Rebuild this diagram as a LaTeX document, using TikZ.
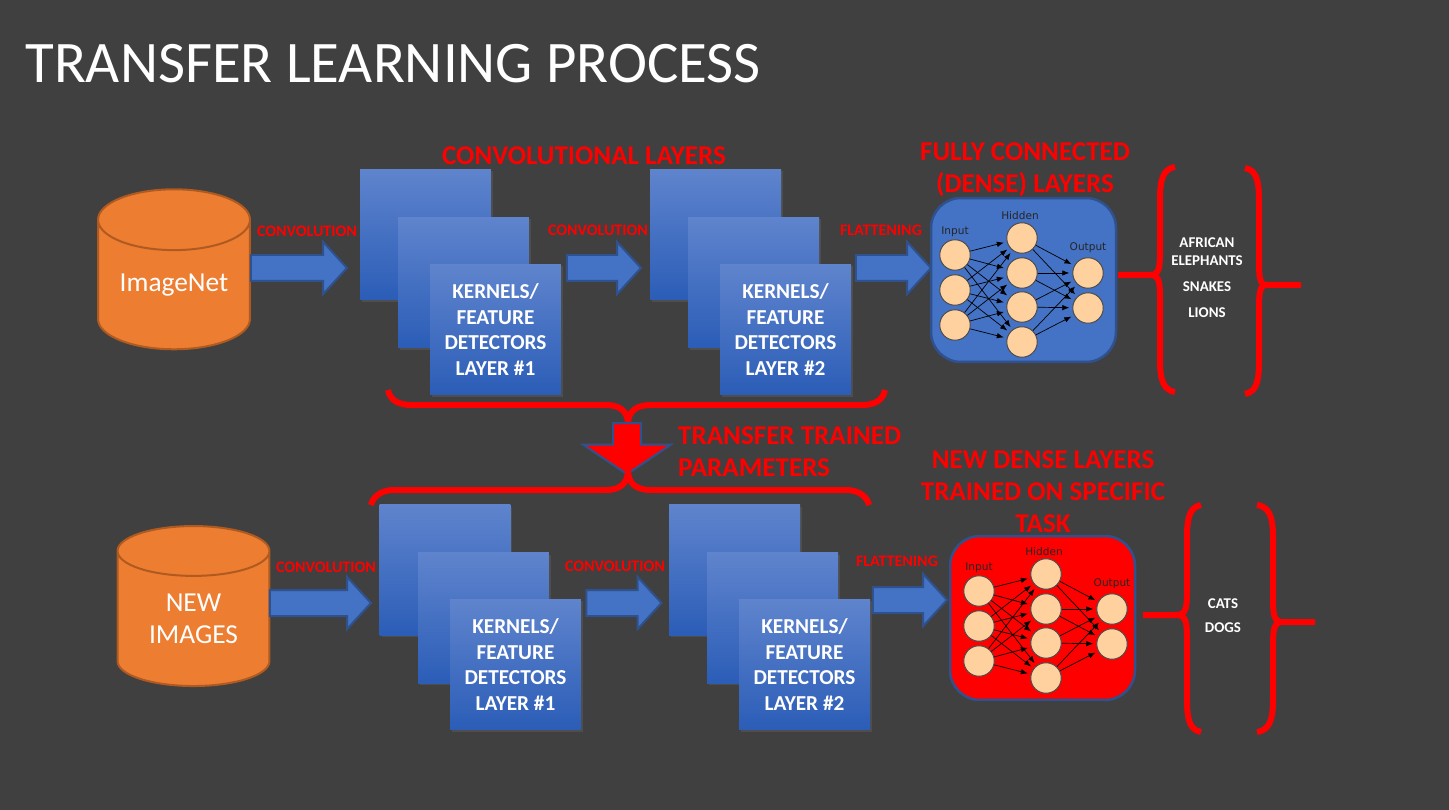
\documentclass[tikz,border=0pt]{standalone}
\usepackage{fontspec}
\setmainfont{Carlito}
\newfontfamily\netfont{DejaVu Sans}
\usetikzlibrary{shapes.geometric,shapes.arrows,shadows,arrows.meta}

\definecolor{slide}{HTML}{404040}
\definecolor{barrel}{HTML}{ED7D31}
\definecolor{barrelline}{HTML}{AE5A21}
\definecolor{ppblue}{HTML}{4472C4}
\definecolor{ppline}{HTML}{2F528F}
\definecolor{boxtop}{HTML}{5F84CD}
\definecolor{boxbottom}{HTML}{2B5DB7}
\definecolor{neuron}{HTML}{FFD19E}

\tikzset{
  barrelnode/.style={draw=barrelline,line width=.04cm,fill=barrel,shape=cylinder,shape border rotate=90,aspect=.56,
    minimum height=3.2cm,minimum width=3.04cm,inner sep=0pt,outer sep=0pt,text=white,align=center,
    font=\fontsize{15.6}{18.5}\selectfont},
  layerbox/.style={minimum size=2.62cm,inner sep=0pt,top color=boxtop,bottom color=boxbottom,
    drop shadow={shadow xshift=.04cm,shadow yshift=-.04cm,opacity=.22},text=white,align=center,
    font=\bfseries\fontsize{12.1}{14.5}\selectfont},
  blockarrow/.style={single arrow,draw=ppline,line width=.04cm,fill=ppblue,text height=.48cm,text depth=0pt,single arrow head extend=.26cm,
    single arrow tip angle=95,inner sep=0pt,outer sep=0pt},
  redhead/.style={red,font=\bfseries\fontsize{15.4}{18.2}\selectfont,align=center},
  redsmall/.style={red,font=\bfseries\fontsize{9.1}{10}\selectfont},
  listtext/.style={white,font=\bfseries\fontsize{8.5}{10}\selectfont},
  densebox/.style={draw=ppline,line width=.05cm,rounded corners=.6cm,minimum width=3.7cm,minimum height=3.28cm},
  cell/.style={circle,draw=black!70,fill=neuron,minimum size=.61cm,inner sep=0pt,line width=.02cm},
  netlabel/.style={font=\netfont\fontsize{6}{7}\selectfont,text=black!85},
  netedge/.style={-{Latex[length=.14cm,width=.11cm]},black,line width=.014cm,shorten >=.06cm},
  bigbrace/.style={red,line width=.12cm},
}

% #1 tip x, #2 spine x, #3 cusp x, #4 tail x, #5 top, #6 middle, #7 bottom
\newcommand{\curlybrace}[7]{
  \draw[bigbrace] (#1,#5) .. controls (#2,#5+2) and (#2,#5+20) .. (#2,#5+35) -- (#2,#6-28)
    .. controls (#2,#6-8) and (#2,#6) .. (#3,#6) -- (#4,#6);
  \draw[bigbrace] (#1,#7) .. controls (#2,#7-2) and (#2,#7-20) .. (#2,#7-35) -- (#2,#6+28)
    .. controls (#2,#6+8) and (#2,#6) .. (#3,#6);
}

% the small network, drawn around its own coordinates
\newcommand{\smallnet}{
  \foreach \n/\y in {1/255,2/290,3/325} \node[cell] (in\n) at (955,\y) {};
  \foreach \n/\y in {1/238,2/273,3/307,4/342} \node[cell] (hid\n) at (1022,\y) {};
  \foreach \n/\y in {1/273,2/308} \node[cell] (out\n) at (1088,\y) {};
  \node[netlabel] (inputlab) at (955,232) {Input};
  \node[netlabel] (hiddenlab) at (1020,215.5) {Hidden};
  \node[netlabel] (outputlab) at (1088,248) {Output};
  \foreach \a in {1,2,3} \foreach \b in {1,2,3,4} \draw[netedge] (in\a) -- (hid\b);
  \foreach \a in {1,2,3,4} \foreach \b in {1,2} \draw[netedge] (hid\a) -- (out\b);
}

\begin{document}
\begin{tikzpicture}[x=.02cm,y=-.02cm]
\useasboundingbox (0,0) rectangle (1449,810);
\fill[slide] (0,0) rectangle (1449,810);

\node[anchor=west,white,inner sep=0pt,font=\fontsize{33.5}{38}\selectfont] (title) at (25,63.5) {TRANSFER LEARNING PROCESS};

% upper row
\node[barrelnode] (imagenet) at (174,285) {\raisebox{-1pt}{ImageNet}};
\node[blockarrow,minimum height=1.92cm] (arrA) at (293,268) {};
\node[layerbox] (boxA) at (425.5,234.5) {};
\node[layerbox] (boxB) at (463.5,282.5) {};
\node[layerbox] (boxC) at (495.5,329.5) {KERNELS/\\FEATURE\\DETECTORS\\LAYER \#1};
\node[blockarrow,minimum height=1.48cm] (arrB) at (598,268) {};
\node[layerbox] (boxD) at (715.5,234.5) {};
\node[layerbox] (boxE) at (753.5,282.5) {};
\node[layerbox] (boxF) at (785.5,329.5) {KERNELS/\\FEATURE\\DETECTORS\\LAYER \#2};
\node[blockarrow,minimum height=1.5cm] (arrC) at (887.5,268) {};
\node[densebox,fill=ppblue] (dense) at (1023.5,280) {};
\smallnet
\curlybrace{1175}{1160}{1150}{1118}{167}{275}{392}
\curlybrace{1245}{1259}{1267}{1301}{168}{285}{394}

\node[redhead] (convlab) at (584,156) {CONVOLUTIONAL LAYERS};
\node[redhead] (fulllab) at (1025,170) {FULLY CONNECTED\\(DENSE) LAYERS};
\node[redsmall] (convA) at (307,231) {CONVOLUTION};
\node[redsmall] (convB) at (598,230) {CONVOLUTION};
\node[redsmall] (flatA) at (881,230) {FLATTENING};
\node[listtext] (african) at (1207,243) {AFRICAN};
\node[listtext] (elephants) at (1207,261) {ELEPHANTS};
\node[listtext] (snakes) at (1207,287) {SNAKES};
\node[listtext] (lions) at (1207,313) {LIONS};

% transfer
\draw[bigbrace] (388,390) .. controls (390,400) and (398,405) .. (412,405) -- (606,405)
  .. controls (618,405) and (628,410) .. (628,424);
\draw[bigbrace] (885,390) .. controls (883,400) and (875,405) .. (862,405) -- (651,405)
  .. controls (638,405) and (628,410) .. (628,424);
\node[single arrow,rotate=-90,draw=ppline,line width=.04cm,fill=red,minimum height=1.02cm,text height=.52cm,text depth=0pt,
  single arrow head extend=.6cm,single arrow tip angle=112,inner sep=0pt,outer sep=0pt] (down) at (627,444) {};
\draw[bigbrace] (371,505) .. controls (373,496) and (382,490) .. (394,490) -- (606,490)
  .. controls (618,490) and (628,485) .. (628,470);
\draw[bigbrace] (869,505) .. controls (867,496) and (858,490) .. (846,490) -- (651,490)
  .. controls (638,490) and (628,485) .. (628,470);
\node[redhead,anchor=west,align=left] (transferlab) at (672,452) {TRANSFER TRAINED\\PARAMETERS};

% lower row
\node[barrelnode] (newimg) at (193.5,619) {NEW\\IMAGES};
\node[blockarrow,minimum height=2.02cm] (arrD) at (314.5,603) {};
\node[layerbox] (boxG) at (445,570) {};
\node[layerbox] (boxH) at (483.5,618) {};
\node[layerbox] (boxI) at (515.5,664.5) {KERNELS/\\FEATURE\\DETECTORS\\LAYER \#1};
\node[blockarrow,minimum height=1.5cm] (arrE) at (618,603) {};
\node[layerbox] (boxJ) at (734.5,570) {};
\node[layerbox] (boxK) at (772.5,618) {};
\node[layerbox] (boxL) at (804.5,664.5) {KERNELS/\\FEATURE\\DETECTORS\\LAYER \#2};
\node[blockarrow,minimum height=1.48cm] (arrF) at (904,600) {};
\node[densebox,fill=red] (newdense) at (1042.5,618) {};
\begin{scope}[shift={(24,336)},name prefix=new]
\smallnet
\end{scope}
\curlybrace{1201}{1187}{1176}{1143}{505}{615}{732}
\curlybrace{1257}{1273}{1283}{1315}{505}{622}{732}

\node[redhead] (newlab) at (1043,492) {NEW DENSE LAYERS\\TRAINED ON SPECIFIC\\TASK};
\node[redsmall] (convC) at (326,567) {CONVOLUTION};
\node[redsmall] (convD) at (615,566) {CONVOLUTION};
\node[redsmall] (flatB) at (897,561) {FLATTENING};
\node[listtext] (cats) at (1223,604) {CATS};
\node[listtext] (dogs) at (1223,628) {DOGS};
\end{tikzpicture}
\end{document}
